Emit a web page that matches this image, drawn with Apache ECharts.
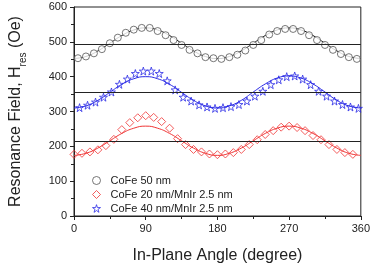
<!DOCTYPE html>
<html><head><meta charset="utf-8">
<script src="https://cdn.jsdelivr.net/npm/echarts@6/dist/echarts.min.js"></script>
<style>html,body{margin:0;padding:0;background:#fff}#c{width:373px;height:269px}</style>
</head><body><div id="c"></div>
<script>
// ---- data ----
var xTicks = [0, 90, 180, 270, 360];
var yTicks = [0, 100, 200, 300, 400, 500, 600];
var seriesNames = ['CoFe 50 nm', 'CoFe 20 nm/MnIr 2.5 nm', 'CoFe 40 nm/MnIr 2.5 nm'];

var blackAngles = [5,15,25,35,45,55,65,75,85,95,105,115,125,135,145,155,165,175,185,195,205,215,225,235,245,255,265,275,285,295,305,315,325,335,345,355];
var blackValues = [453,458,467,479,496,512,526,535,540,540,531,519,505,491,477,467,456,453,451,456,463,475,491,505,521,531,537,537,531,519,505,491,477,465,456,451];

var redAngles = [0,10,20,30,40,50,60,70,80,90,100,110,120,130,140,150,160,170,180,190,200,210,220,230,240,250,260,270,280,290,300,310,320,330,340,350];
var redValues = [177,180,184,190,202,220,248,268,282,288,283,271,252,222,205,191,184,178,176,178,182,191,205,219,234,245,255,258,254,245,231,219,205,191,182,177];

var blueAngles = [7,17,27,37,47,57,67,77,87,97,107,117,127,137,147,157,167,177,187,197,207,217,227,237,247,257,267,277,287,297,307,317,327,337,347,357];
var blueValues = [311,318,327,341,356,378,393,409,416,416,409,388,362,341,330,319,313,309,311,314,320,330,344,358,377,391,400,402,393,377,358,344,330,320,313,309];

var fitAngles = [0,15,30,45,60,75,90,105,120,135,150,165,180,195,210,225,240,255,270,285,300,315,330,345,360];
var blackFit = [452,458,474,496,518,534,540,534,518,496,474,458,452,458,474,496,518,534,540,534,518,496,474,458,452];
var redFit   = [174,180,195,216,237,252,258,252,237,216,195,180,174,180,195,216,237,252,258,252,237,216,195,180,174];
var blueFit  = [310,316,332,355,378,394,400,394,378,355,332,316,310,316,332,356,379,396,402,396,379,356,332,316,310];

var refLines = [493, 355, 215];

// ---- build ----
function pairs(xs, ys){ return xs.map(function(x,i){ return [x, ys[i]]; }); }
var starPath = 'path://M50,2 L61,36 L97,36 L68,57 L79,92 L50,71 L21,92 L32,57 L3,36 L39,36 Z';
var cBlack = '#555555', cRed = '#f03535', cBlue = '#2a2ae6';
var font = '"Liberation Sans", Arial, sans-serif';

var chart = echarts.init(document.getElementById('c'), null, {renderer: 'canvas'});
chart.setOption({
  animation: false,
  backgroundColor: '#fff',
  grid: {left: 72.5, right: 10.5, top: 7, bottom: 48, show: true, borderColor: '#222', borderWidth: 1, backgroundColor: 'transparent'},
  xAxis: {
    type: 'value', min: xTicks[0], max: xTicks[xTicks.length-1], interval: 90,
    name: 'In-Plane Angle (degree)', nameLocation: 'middle', nameGap: 32,
    nameTextStyle: {fontFamily: font, fontSize: 16, color: '#222'},
    axisLine: {show: true, lineStyle: {color: '#222', width: 1}},
    axisTick: {show: true, length: 4, lineStyle: {color: '#222'}},
    minorTick: {show: true, splitNumber: 2, length: 3, lineStyle: {color: '#222'}},
    splitLine: {show: false},
    axisLabel: {fontFamily: font, fontSize: 11, color: '#222', margin: 7}
  },
  yAxis: {
    type: 'value', min: yTicks[0], max: yTicks[yTicks.length-1], interval: 100,
    name: '{a|Resonance Field, H}{s|res}{a| (Oe)}', nameLocation: 'middle', nameGap: 50, nameRotate: 90,
    nameTextStyle: {
      fontFamily: font, fontSize: 16, color: '#222',
      rich: {
        a: {fontFamily: font, fontSize: 16, color: '#222'},
        s: {fontFamily: font, fontSize: 10, color: '#222', verticalAlign: 'bottom', padding: [0, 0, -4, 0]}
      }
    },
    axisLine: {show: true, lineStyle: {color: '#222', width: 1}},
    axisTick: {show: true, length: 4, lineStyle: {color: '#222'}},
    minorTick: {show: true, splitNumber: 2, length: 3, lineStyle: {color: '#222'}},
    splitLine: {show: false},
    axisLabel: {fontFamily: font, fontSize: 11, color: '#222', margin: 7}
  },
  legend: {
    orient: 'vertical', left: 87, top: 170, itemGap: 3, itemWidth: 8, itemHeight: 8,
    textStyle: {fontFamily: font, fontSize: 11, color: '#222', padding: [0, 0, 0, 5]},
    data: [
      {name: seriesNames[0], icon: 'circle', itemStyle: {color: '#fff', borderColor: cBlack, borderWidth: 1}},
      {name: seriesNames[1], icon: 'diamond', itemStyle: {color: '#fff', borderColor: cRed, borderWidth: 1}},
      {name: seriesNames[2], icon: starPath, itemStyle: {color: '#fff', borderColor: cBlue, borderWidth: 1}}
    ]
  },
  series: [
    {type: 'line', data: [], silent: true, markLine: {silent: true, symbol: 'none', label: {show: false},
      lineStyle: {color: '#222', width: 1, type: 'solid'}, data: refLines.map(function(v){ return {yAxis: v}; })}},
    {type: 'line', data: pairs(fitAngles, blackFit), smooth: 0.5, showSymbol: false, lineStyle: {color: '#111', width: 1}, z: 3},
    {type: 'line', data: pairs(fitAngles, redFit), smooth: 0.5, showSymbol: false, lineStyle: {color: cRed, width: 1}, z: 3},
    {type: 'line', data: pairs(fitAngles, blueFit), smooth: 0.5, showSymbol: false, lineStyle: {color: cBlue, width: 1}, z: 3},
    {name: seriesNames[0], type: 'scatter', data: pairs(blackAngles, blackValues), symbol: 'circle', symbolSize: 7,
      itemStyle: {color: '#ffffff', borderColor: cBlack, borderWidth: 1}, z: 4},
    {name: seriesNames[1], type: 'scatter', data: pairs(redAngles, redValues), symbol: 'diamond', symbolSize: 8,
      itemStyle: {color: 'rgba(255,255,255,0)', borderColor: cRed, borderWidth: 1}, z: 4},
    {name: seriesNames[2], type: 'scatter', data: pairs(blueAngles, blueValues), symbol: starPath, symbolSize: 8,
      itemStyle: {color: 'rgba(255,255,255,0)', borderColor: cBlue, borderWidth: 1}, z: 4}
  ]
});
</script></body></html>
